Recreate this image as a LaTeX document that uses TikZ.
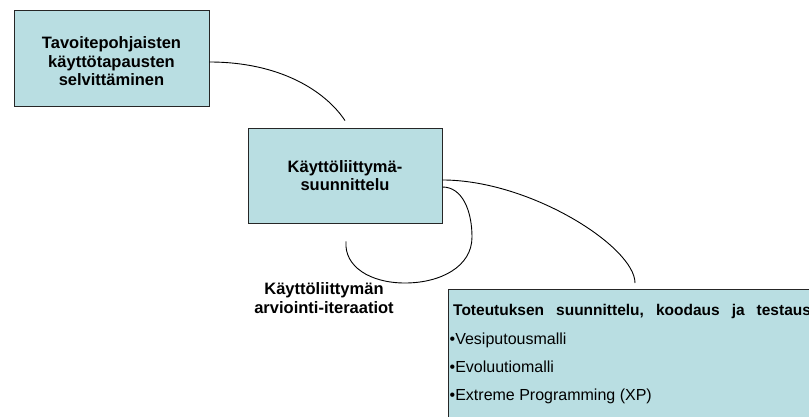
\documentclass[tikz,border=0pt]{standalone}
\usepackage{fontspec}
\setmainfont{Liberation Sans}
\usetikzlibrary{positioning,calc}
\definecolor{boxfill}{RGB}{185,222,226}

\begin{document}
\begin{tikzpicture}[x=1pt,y=1pt,
	box/.style={draw=black!85, line width=0.9pt, fill=boxfill, inner sep=0pt},
	lbl/.style={font=\fontsize{16.5}{18.5}\selectfont\bfseries, align=center, inner sep=0pt},
	item/.style={font=\fontsize{16}{18}\selectfont, anchor=base west, inner sep=0pt},
	link/.style={line width=0.9pt}]

	\useasboundingbox (0,0) rectangle (809,416);
	\clip (0,0) rectangle (809,416);

	\node[box, minimum width=195pt, minimum height=96pt] (goal) at (111.5,358) {};
	\node[lbl] (goaltext) at ($(goal.center)+(0,-3.5)$) {Tavoitepohjaisten\\käyttötapausten\\selvittäminen};
	\node[box, lbl, minimum width=194pt, minimum height=95pt] (ui) at (345,240.5) {Käyttöliittymä-\\suunnittelu};
	\node[box, anchor=north west, minimum width=400pt, minimum height=160pt] (impl) at (448,127) {};

	\node[lbl, anchor=base] (iter) at (324,103) {Käyttöliittymän\\arviointi-iteraatiot};

	\node[item, font=\fontsize{15.5}{18}\selectfont\bfseries] (head) at (453,101) {\spaceskip=12pt\relax Toteutuksen suunnittelu, koodaus ja testaus};
	\foreach \t [count=\i] in {Vesiputousmalli, Evoluutiomalli, Extreme Programming (XP)}
	{
		\node[item] (b\i) at (449.5,100-28*\i) {•\t};
	};

	\coordinate (t1) at ($(ui.north)+(0,7)$);
	\coordinate (t2) at ($(impl.north west)+(187,6)$);
	\coordinate (t3) at ($(ui.south)+(1,-18)$);
	\coordinate (l1) at (472,179);
	\coordinate (l2) at (405,133);

	\draw[link] ($(goal.east)+(0,-4)$) .. controls +(70,0) and +(-20,30) .. (t1);
	\draw[link] ($(ui.east)+(0,-4.5)$) .. controls +(88,0) and +(0,36) .. (t2);
	\draw[link] ($(ui.east)+(0,-11.5)$) .. controls +(20,0) and +(0,26) .. (l1)
		.. controls +(0,-30) and +(35,0) .. (l2)
		.. controls +(-35,0) and +(-2,-25) .. (t3);

\end{tikzpicture}
\end{document}
